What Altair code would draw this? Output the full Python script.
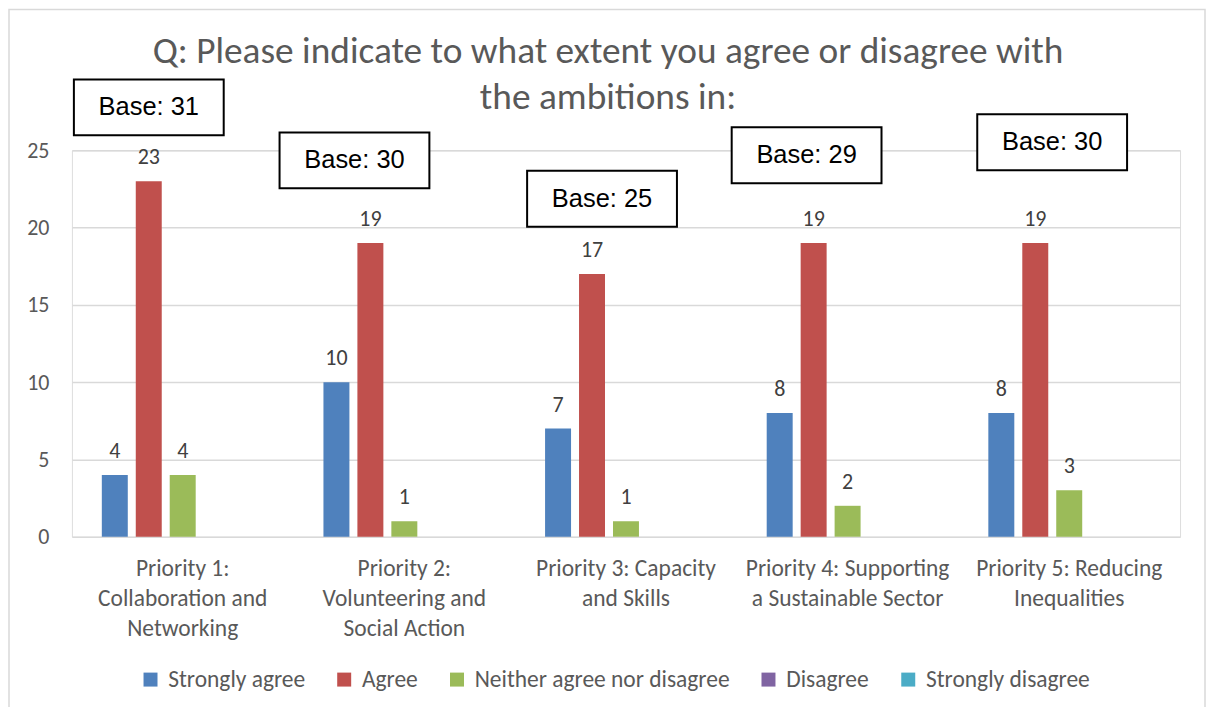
import json
import altair as alt
import pandas as pd

# ---------------- data ----------------
CATEGORIES = [
    "Priority 1: Collaboration and Networking",
    "Priority 2: Volunteering and Social Action",
    "Priority 3: Capacity and Skills",
    "Priority 4: Supporting a Sustainable Sector",
    "Priority 5: Reducing Inequalities",
]
CATEGORY_LINES = [
    ["Priority 1:", "Collaboration and", "Networking"],
    ["Priority 2:", "Volunteering and", "Social Action"],
    ["Priority 3: Capacity", "and Skills"],
    ["Priority 4: Supporting", "a Sustainable Sector"],
    ["Priority 5: Reducing", "Inequalities"],
]
SERIES = ["Strongly agree", "Agree", "Neither agree nor disagree", "Disagree", "Strongly disagree"]
STRONGLY_AGREE = [4, 10, 7, 8, 8]
AGREE = [23, 19, 17, 19, 19]
NEITHER = [4, 1, 1, 2, 3]
DISAGREE = [0, 0, 0, 0, 0]
STRONGLY_DISAGREE = [0, 0, 0, 0, 0]
BASES = [31, 30, 25, 29, 30]
Y_TICKS = [0, 5, 10, 15, 20, 25]
TITLE = ["Q: Please indicate to what extent you agree or disagree with", "the ambitions in:"]

# ---------------- styling / layout ----------------
COLORS = ["#4F81BD", "#C0504D", "#9BBB59", "#8064A2", "#4BACC6"]
FONT = "Carlito, Lato, sans-serif"
GREY = "#595959"
# annotation boxes ("Base: n"): centre offset from category (category units) and centre height (value units)
BOX_DX = [-0.153, -0.225, -0.108, -0.185, -0.077]
BOX_CY = [27.78, 24.35, 21.87, 24.68, 25.52]
BOX_HALF_W = 0.338
BOX_HALF_H = 1.81

W, H = 1110, 387

rows = []
for s, vals in zip(SERIES, [STRONGLY_AGREE, AGREE, NEITHER, DISAGREE, STRONGLY_DISAGREE]):
    for c, v in zip(CATEGORIES, vals):
        rows.append({"cat": c, "series": s, "value": v})
df = pd.DataFrame(rows)

boxes = pd.DataFrame({
    "cx": [i + d for i, d in enumerate(BOX_DX)],
    "cy": BOX_CY,
    "label": [f"Base: {b}" for b in BASES],
})
boxes["x1"] = boxes["cx"] - BOX_HALF_W
boxes["x2"] = boxes["cx"] + BOX_HALF_W
boxes["y1"] = boxes["cy"] - BOX_HALF_H
boxes["y2"] = boxes["cy"] + BOX_HALF_H

label_map = json.dumps(dict(zip(CATEGORIES, CATEGORY_LINES)))

x_scale = alt.Scale(domain=CATEGORIES, paddingInner=0.234, paddingOuter=0.117)
xo_scale = alt.Scale(domain=SERIES, paddingInner=0.235, paddingOuter=0.1175)
y_scale = alt.Scale(domain=[0, 25], nice=False, zero=True)

x_axis = alt.Axis(
    title=None, labelExpr=f"{label_map}[datum.value]", labelAngle=0,
    labelFont=FONT, labelFontSize=23.5, labelColor=GREY, labelLineHeight=30,
    labelPadding=20, ticks=False, tickSize=0, domain=False, grid=False, labelLimit=400,
)
y_axis = alt.Axis(
    title=None, values=Y_TICKS, labelFont=FONT, labelFontSize=22, labelColor=GREY,
    labelPadding=23, ticks=False, tickSize=0, domain=False, grid=True,
    gridColor="#d9d9d9", gridWidth=1.5,
)

base = alt.Chart(df)

bars = base.mark_bar().encode(
    x=alt.X("cat:N", scale=x_scale, axis=x_axis, sort=CATEGORIES),
    xOffset=alt.XOffset("series:N", scale=xo_scale, sort=SERIES),
    y=alt.Y("value:Q", scale=y_scale, axis=y_axis),
    color=alt.Color(
        "series:N", sort=SERIES, scale=alt.Scale(domain=SERIES, range=COLORS),
        legend=alt.Legend(
            title=None, orient="none", legendX=67, legendY=518, direction="horizontal",
            columns=5, symbolType="square", symbolSize=196, symbolStrokeWidth=0,
            labelFont=FONT, labelFontSize=23.5, labelColor=GREY, labelOffset=6,
            columnPadding=27, labelLimit=500,
        ),
    ),
)

labels = base.transform_filter("datum.value > 0").mark_text(
    font=FONT, fontSize=22, color="#404040", baseline="alphabetic", dy=-17
).encode(
    x=alt.X("cat:N", scale=x_scale, axis=None, sort=CATEGORIES),
    xOffset=alt.XOffset("series:N", scale=xo_scale, sort=SERIES),
    y=alt.Y("value:Q", scale=y_scale),
    text=alt.Text("value:Q"),
)

bx_scale = alt.Scale(domain=[-0.5, 4.5], nice=False, zero=False)
box_rects = alt.Chart(boxes).mark_rect(fill="white", stroke="black", strokeWidth=2).encode(
    x=alt.X("x1:Q", scale=bx_scale, axis=None),
    x2="x2:Q",
    y=alt.Y("y1:Q", scale=y_scale),
    y2="y2:Q",
)
box_text = alt.Chart(boxes).mark_text(
    font="Liberation Sans, Arial, sans-serif", fontSize=25.5, color="black", baseline="middle"
).encode(
    x=alt.X("cx:Q", scale=bx_scale, axis=None),
    y=alt.Y("cy:Q", scale=y_scale),
    text="label:N",
)

one = pd.DataFrame({"f": [0]})
frame = alt.Chart(one).mark_rect(
    filled=False, stroke="#d9d9d9", strokeWidth=1.5
).encode(
    x=alt.value(-63), x2=alt.value(1135), y=alt.value(-141), y2=alt.value(700)
)

title = alt.Chart(one).mark_text(
    font=FONT, fontSize=37.4, color=GREY, align="center", baseline="alphabetic", lineHeight=46
).encode(
    x=alt.value(537), y=alt.value(-87), text=alt.value(TITLE)
)

chart = alt.layer(frame, bars, labels, box_rects, box_text, title).resolve_scale(
    x="independent"
).properties(
    width=W, height=H,
    padding={"left": 64, "top": 142, "right": 26, "bottom": 170},
    autosize=alt.AutoSizeParams(type="none"),
).configure_view(stroke=None).configure(background="white")

chart.save("out.html", embed_options={"renderer": "svg", "actions": False})
